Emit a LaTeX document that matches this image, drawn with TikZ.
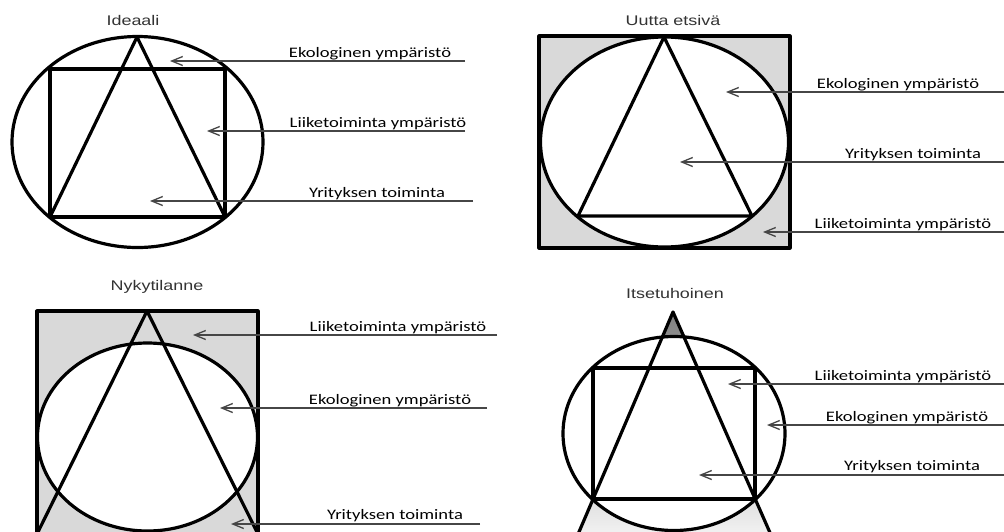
\documentclass[tikz,border=0pt]{standalone}
\usepackage{fontspec}
\usepackage{tikz}
\usetikzlibrary{arrows.meta}
\newfontfamily\lblfont[FakeStretch=1.28]{Carlito}
\newfontfamily\ttlfont[FakeStretch=1.28]{Liberation Sans}
\definecolor{shade}{RGB}{217,217,217}
\definecolor{pointergray}{RGB}{70,70,70}

\begin{document}
\begin{tikzpicture}[
  x=1pt,y=-1pt,
  outline/.style={line width=3.2pt,line join=round},
  title/.style={font=\ttlfont\fontsize{14}{16}\selectfont,text=black!80,anchor=base,inner sep=0pt},
  lbl/.style={font=\lblfont\fontsize{14.5}{17}\selectfont,anchor=base,inner sep=0pt},
  pointer/.style={-{Straight Barb[length=11pt,width=9pt]},line width=1.3pt,draw=pointergray}
]
\useasboundingbox[fill=white] (0,0) rectangle (1004,531);
\clip (0,0) rectangle (1004,531);

% Ideaali
\node[title] (ideaali) at (133,25) {Ideaali};
\draw[outline] (137.5,142) ellipse [x radius=125.5,y radius=105.5];
\draw[outline] (50,69) rectangle (225,217);
\draw[outline] (137,37) -- (50,217) -- (225,217) -- cycle;
\coordinate (ia1) at (465,61);  \coordinate (ib1) at (170,61);
\coordinate (ia2) at (465,131); \coordinate (ib2) at (207,131);
\coordinate (ia3) at (473,201); \coordinate (ib3) at (150,201);
\node[lbl] (ieko) at (370,57) {Ekologinen ympäristö};
\node[lbl] (iliik) at (378,127) {Liiketoiminta ympäristö};
\node[lbl] (iyri) at (377,197) {Yrityksen toiminta};
\draw[pointer] (ia1) -- (ib1);
\draw[pointer] (ia2) -- (ib2);
\draw[pointer] (ia3) -- (ib3);

% Uutta etsiva
\node[title] (uutta) at (673,25) {Uutta etsivä};
\draw[outline,fill=shade] (539,36) rectangle (790,248);
\draw[outline,fill=white] (664.5,142) ellipse [x radius=124,y radius=105];
\draw[outline] (664,37) -- (578,216) -- (752,216) -- cycle;
\coordinate (ua1) at (1004,92);  \coordinate (ub1) at (726,92);
\coordinate (ua2) at (1004,162); \coordinate (ub2) at (680,162);
\coordinate (ua3) at (1004,232); \coordinate (ub3) at (763,232);
\node[lbl] (ueko) at (898,88) {Ekologinen ympäristö};
\node[lbl] (uyri) at (913,158) {Yrityksen toiminta};
\node[lbl] (uliik) at (903,228) {Liiketoiminta ympäristö};
\draw[pointer] (ua1) -- (ub1);
\draw[pointer] (ua2) -- (ub2);
\draw[pointer] (ua3) -- (ub3);

% Nykytilanne
\node[title] (nyky) at (157,290) {Nykytilanne};
\draw[outline,fill=shade] (37,311) rectangle (258,560);
\draw[outline,fill=white] (147.5,437) ellipse [x radius=110,y radius=94];
\draw[outline] (147,311) -- (36,536) -- (259,536) -- cycle;
\coordinate (na1) at (497,335); \coordinate (nb1) at (193,335);
\coordinate (na2) at (487,408); \coordinate (nb2) at (220,408);
\coordinate (na3) at (480,524); \coordinate (nb3) at (231,524);
\node[lbl] (nliik) at (398,331) {Liiketoiminta ympäristö};
\node[lbl] (neko) at (390,404) {Ekologinen ympäristö};
\node[lbl] (nyri) at (395,519) {Yrityksen toiminta};
\draw[pointer] (na1) -- (nb1);
\draw[pointer] (na2) -- (nb2);
\draw[pointer] (na3) -- (nb3);

% Itsetuhoinen
\node[title] (itse) at (675,298) {Itsetuhoinen};
\fill[shade] (673,312) -- (567,560) -- (782,560) -- cycle;
\draw[outline,fill=white] (674,433.5) ellipse [x radius=111,y radius=97];
\draw[outline] (593,368) rectangle (755,499);
\draw[outline] (673,312) -- (567,560) -- (782,560) -- cycle;
\coordinate (ta1) at (1004,384); \coordinate (tb1) at (728,384);
\coordinate (ta2) at (1004,425); \coordinate (tb2) at (767,425);
\coordinate (ta3) at (1004,475); \coordinate (tb3) at (699,475);
\node[lbl] (tliik) at (903,380) {Liiketoiminta ympäristö};
\node[lbl] (teko) at (907,421) {Ekologinen ympäristö};
\node[lbl] (tyri) at (912,470) {Yrityksen toiminta};
\draw[pointer] (ta1) -- (tb1);
\draw[pointer] (ta2) -- (tb2);
\draw[pointer] (ta3) -- (tb3);
\end{tikzpicture}
\end{document}
